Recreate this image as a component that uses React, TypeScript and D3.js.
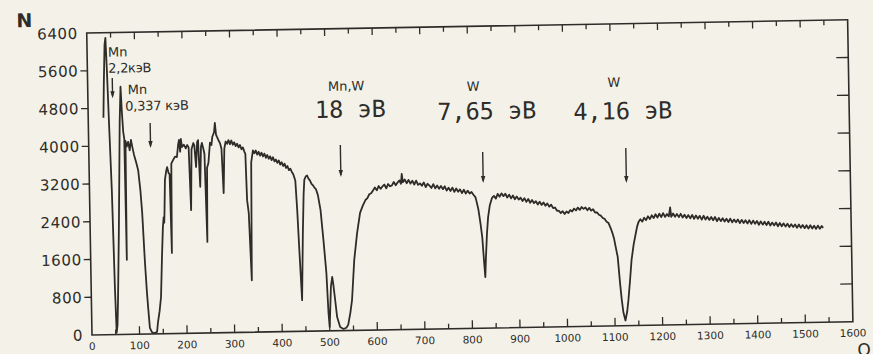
import React from 'react';
import * as d3 from 'd3';

const W = 873;
const H = 354;

// channel number vs counts
const manganeseRegion: [number, number][] = [
  [32, 4600], [34, 5300], [37, 6150], [39, 6290], [41, 5600], [44, 4300], [47, 3060], [50, 950], [52, 40],
  [54, 200], [56, 730], [60, 2100], [63, 3280], [66, 4500], [69, 5250], [71, 4700], [73, 4300], [75, 4150],
  [76, 1580], [77.5, 4100], [80, 3980], [83, 4080], [86, 3900], [89, 4120], [92, 3950], [95, 3800], [99, 3650],
  [103, 3480], [107, 3050], [110, 2570], [114, 1510], [117, 900], [119, 570], [122, 130], [126, 40], [130, 15],
  [134, 25], [137, 45], [139, 230], [143, 480], [146.5, 780], [150, 1630], [153, 2260], [155, 2470], [156, 2350],
  [157, 2600], [159, 3260], [162, 3450], [164, 3530], [167, 3400], [169, 3380], [171, 1710], [173, 3600],
  [177, 3680], [181, 3750], [185, 3740], [188, 4000], [190, 4100], [192, 3850], [194, 4120], [196, 3950],
  [200, 4000], [204, 3920], [207, 3990], [210, 3940], [213, 2610], [216, 3900], [220, 4030], [222, 3980],
  [225, 3520], [228, 4050], [230, 4090], [233, 3100], [236, 3950], [238, 4030], [241, 3900], [243, 3800],
  [246, 1930], [248, 3500], [251, 3600], [255, 4030], [258, 3980], [260, 4150], [264, 4250], [266, 4450],
  [268, 4200], [270, 4150], [273, 4080], [276, 4020], [279, 3900], [282, 2960], [285, 3900], [288, 4050],
  [291, 4000], [294, 4080], [297, 3990], [300, 4070], [303, 3980], [306, 4030], [309, 3950], [312, 4000],
  [315, 3920], [318, 3970], [321, 3880], [324, 3920], [327, 3830], [329, 3780], [331, 2800], [334, 2530],
  [338, 1100], [341, 3600], [345, 3850],
];

const resonance18Region: [number, number][] = [
  [348, 3790], [351, 3850], [354, 3760], [357, 3820], [360, 3740], [363, 3800], [366, 3720], [369, 3780],
  [372, 3690], [375, 3750], [378, 3670], [381, 3720], [384, 3640], [387, 3700], [390, 3610], [393, 3650],
  [396, 3580], [399, 3630], [402, 3540], [405, 3590], [408, 3510], [411, 3560], [414, 3470], [417, 3510],
  [420, 3420], [423, 3450], [426, 3380], [429, 3330], [433, 3200], [436, 2570], [439, 1720], [443, 660],
  [447, 2080], [450, 2900], [452, 3210], [455, 3280], [458, 3300], [461, 3230], [464, 3190], [467, 3120],
  [470, 3090], [473, 3040], [476, 3010], [480, 2880], [485, 2560], [490, 1930], [495, 1230], [498, 380],
  [500, 80], [502, 500], [504, 930], [507, 1140], [509, 1000], [511, 800], [516, 290], [522, 80], [529, 35],
  [535, 60], [539, 120], [544, 380], [548, 650], [554, 1490], [561, 2060], [568, 2490], [574, 2640],
  [580, 2760], [584, 2800], [588, 2880], [592, 2900], [596, 2960],
];

const tungstenRegion: [number, number][] = [
  [600, 3020], [604, 2960], [608, 3050], [612, 2990], [616, 3040], [620, 3080], [624, 3000], [628, 3090],
  [632, 3040], [636, 3060], [640, 3130], [644, 3060], [648, 3120], [652, 3160], [655, 3090], [657, 3300],
  [659, 3120], [663, 3180], [667, 3100], [671, 3170], [675, 3090], [679, 3150], [683, 3070], [687, 3150],
  [691, 3060], [695, 3090], [699, 3040], [703, 3110], [707, 3010], [711, 3080], [715, 3040], [719, 2990],
  [723, 3070], [727, 2980], [731, 3040], [735, 2970], [739, 3030], [743, 2960], [747, 3020], [751, 2930],
  [755, 2990], [759, 2920], [763, 2990], [767, 2900], [771, 2970], [775, 2900], [779, 2950], [783, 2870],
  [787, 2940], [791, 2860], [795, 2920], [799, 2860], [803, 2890], [807, 2830], [811, 2780], [813, 2700],
  [817, 2510], [821, 2200], [824, 1930], [827, 1400], [829, 1080], [831, 1500], [834, 2000], [837, 2350],
  [841, 2600], [846, 2760], [850, 2800], [854, 2740], [858, 2840], [862, 2780], [866, 2850], [870, 2790],
  [874, 2840], [878, 2760], [882, 2820], [886, 2740], [890, 2800], [894, 2720], [898, 2780], [902, 2710],
  [906, 2750], [910, 2680], [914, 2740], [918, 2660], [922, 2720], [926, 2640], [930, 2700], [934, 2630],
  [938, 2670], [942, 2600], [946, 2660], [950, 2590], [954, 2640], [958, 2570], [962, 2620], [966, 2550],
  [970, 2590], [974, 2520], [978, 2530], [982, 2460], [986, 2460], [990, 2410], [994, 2450], [998, 2390],
  [1002, 2440], [1006, 2410], [1010, 2470], [1014, 2440], [1018, 2500], [1022, 2460], [1026, 2520],
  [1030, 2470], [1034, 2530], [1038, 2490], [1042, 2520], [1046, 2460], [1050, 2510], [1054, 2450],
  [1058, 2480], [1062, 2410], [1066, 2410], [1070, 2360], [1074, 2340], [1078, 2290], [1082, 2270],
  [1086, 2210], [1090, 2180], [1094, 2080], [1098, 1960], [1101, 1850], [1104, 1680], [1108, 1460],
  [1112, 900], [1115, 550], [1118, 280], [1122, 110], [1126, 300], [1129, 545], [1133, 950], [1137, 1390],
  [1142, 1720], [1147, 1960], [1150, 2100], [1153, 2190], [1157, 2250], [1161, 2200], [1165, 2280],
  [1169, 2230], [1173, 2310], [1177, 2250], [1181, 2330], [1185, 2270], [1189, 2350], [1193, 2280],
  [1197, 2360], [1201, 2290], [1205, 2370], [1209, 2290], [1213, 2350], [1217, 2300], [1220, 2490],
  [1222, 2290], [1226, 2360], [1230, 2290], [1234, 2350], [1238, 2280], [1242, 2350], [1246, 2270],
  [1250, 2330], [1254, 2260], [1258, 2320], [1262, 2250], [1266, 2320], [1270, 2240], [1274, 2310],
  [1278, 2240], [1282, 2300], [1286, 2220], [1290, 2300], [1294, 2220], [1298, 2280], [1302, 2210],
  [1306, 2270], [1310, 2200], [1314, 2270], [1318, 2180], [1322, 2250], [1326, 2180], [1330, 2240],
  [1334, 2170], [1338, 2230], [1342, 2160], [1346, 2230], [1350, 2150], [1354, 2210], [1358, 2150],
  [1362, 2210], [1366, 2130], [1370, 2200], [1374, 2130], [1378, 2190], [1382, 2120], [1386, 2190],
  [1390, 2110], [1394, 2180], [1398, 2110], [1402, 2170], [1406, 2090], [1410, 2160], [1414, 2090],
  [1418, 2150], [1422, 2080], [1426, 2150], [1430, 2070], [1434, 2130], [1438, 2070], [1442, 2130],
  [1446, 2050], [1450, 2120], [1454, 2050], [1458, 2110], [1462, 2040], [1466, 2100], [1470, 2030],
  [1474, 2090], [1478, 2030], [1482, 2080], [1486, 2010], [1490, 2080], [1494, 2010], [1498, 2070],
  [1502, 2000], [1506, 2060], [1510, 1990], [1514, 2060], [1518, 1990], [1522, 2050], [1526, 1980],
  [1530, 2050], [1534, 1980], [1538, 2040], [1541, 2000],
];

const xTickLabels = [0, 100, 200, 300, 400, 500, 600, 700, 800, 900, 1000, 1100, 1200, 1300, 1400, 1500, 1600];
const yTickLabels = [0, 800, 1600, 2400, 3200, 4000, 4800, 5600, 6400];

// resonance markers: channel of the arrow, arrow top / tip in counts
const arrows = [
  { ch: 52, top: 5440, tip: 5010 },
  { ch: 130, top: 4470, tip: 3940 },
  { ch: 529, top: 3935, tip: 3257 },
  { ch: 828, top: 3733, tip: 3077 },
  { ch: 1129, top: 3765, tip: 3024 },
];

export default function App() {
  const x = d3.scaleLinear().domain([0, 1600]).range([92, 853]);
  const y = d3.scaleLinear().domain([0, 6400]).range([335, 33]);
  const line = d3.line<[number, number]>().x(d => x(d[0])).y(d => y(d[1]));
  const spectrum = [...manganeseRegion, ...resonance18Region, ...tungstenRegion];
  const ink = '#2e2c29';
  const x0 = x(0), x1 = x(1600), y0 = y(0), y1 = y(6400);
  const minorX = d3.range(50, 1600, 50);
  const sans = 'DejaVu Sans, sans-serif';
  const mono = 'DejaVu Sans Mono, monospace';

  return (
    <svg width={W} height={H} style={{ position: 'absolute', left: 0, top: 0 }}>
      <rect width={W} height={H} fill="#f4f2e8" />
      <g transform={`rotate(-1 ${x0} ${y0})`} fill={ink}>
        <rect x={x0} y={y1} width={x1 - x0} height={y0 - y1} fill="none" stroke={ink} strokeWidth={1.6} />
        {minorX.map(v => (
          <g key={'t' + v} stroke={ink} strokeWidth={1.3}>
            <line x1={x(v)} x2={x(v)} y1={y0} y2={y0 - (v % 100 === 0 ? 8 : 5)} />
            <line x1={x(v)} x2={x(v)} y1={y1} y2={y1 + (v % 100 === 0 ? 7 : 5)} />
          </g>
        ))}
        {yTickLabels.slice(1, -1).map(v => (
          <g key={'r' + v} stroke={ink} strokeWidth={1.3}>
            <line x1={x0 - 7} x2={x0} y1={y(v)} y2={y(v)} />
            <line x1={x1 - 12} x2={x1} y1={y(v)} y2={y(v)} />
          </g>
        ))}
        {yTickLabels.map(v => (
          <text key={'yl' + v} x={x0 - 9} y={y(v) + 5.5} textAnchor="end" fontFamily={sans} fontSize={15}
            letterSpacing={0.6}>{v}</text>
        ))}
        {xTickLabels.map(v => (
          <text key={'xl' + v} x={x(v)} y={y0 + 15} textAnchor="middle" fontFamily={sans} fontSize={10.5}>{v}</text>
        ))}
        <text x={22} y={26} fontFamily={sans} fontSize={19} fontWeight="bold">N</text>
        <text x={857} y={369} fontFamily={sans} fontSize={17}>O</text>

        <path d={line(spectrum) || ''} fill="none" stroke={ink} strokeWidth={1.8} strokeLinejoin="round" />

        {arrows.map(a => (
          <g key={'a' + a.ch}>
            <line x1={x(a.ch)} x2={x(a.ch)} y1={y(a.top)} y2={y(a.tip) - 2} stroke={ink} strokeWidth={1.4} />
            <path d={`M${x(a.ch) - 2.2},${y(a.tip) - 7}L${x(a.ch)},${y(a.tip)}L${x(a.ch) + 2.2},${y(a.tip) - 7}Z`} />
          </g>
        ))}

        <text x={x(44)} y={y(5890)} fontFamily={sans} fontSize={13}>Mn</text>
        <text x={x(44)} y={y(5550)} fontFamily={sans} fontSize={13} letterSpacing={-0.3}>2,2кэВ</text>
        <text x={x(84)} y={y(5090)} fontFamily={sans} fontSize={13}>Mn</text>
        <text x={x(78)} y={y(4740)} fontFamily={sans} fontSize={13} letterSpacing={-0.2}>0,337 кэВ</text>
        <text x={x(505)} y={y(5085)} fontFamily={sans} fontSize={13}>Mn,W</text>
        <text x={x(477)} y={y(4513)} fontFamily={mono} fontSize={23.5}>18 эВ</text>
        <text x={x(797)} y={y(5033)} fontFamily={sans} fontSize={13}>W</text>
        <text x={x(734)} y={y(4430)} fontFamily={mono} fontSize={23.5}>7,65 эВ</text>
        <text x={x(1093)} y={y(5064)} fontFamily={sans} fontSize={13}>W</text>
        <text x={x(1020)} y={y(4378)} fontFamily={mono} fontSize={23.5}>4,16 эВ</text>
      </g>
    </svg>
  );
}
